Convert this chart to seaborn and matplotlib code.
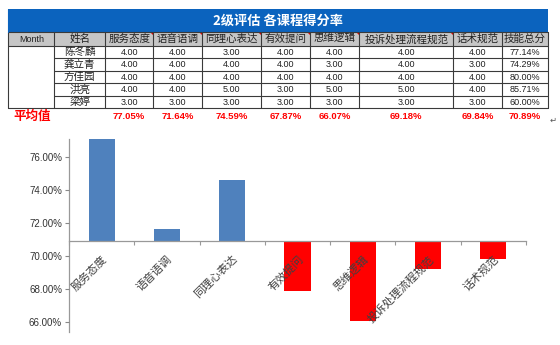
import matplotlib
matplotlib.use("Agg")
import matplotlib.pyplot as plt
from matplotlib.patches import Rectangle, Polygon
from matplotlib.ticker import FuncFormatter, FixedLocator
import seaborn as sns
import pandas as pd

# ---- data ----
title = "2级评估 各课程得分率"
courses = ["服务态度", "语音语调", "同理心表达", "有效提问", "思维逻辑", "投诉处理流程规范", "话术规范"]
names = ["陈冬麟", "龚立青", "方佳园", "洪亮", "梁婷"]
scores_chen = [4.00, 4.00, 3.00, 4.00, 4.00, 4.00, 4.00]
scores_gong = [4.00, 4.00, 4.00, 4.00, 3.00, 4.00, 3.00]
scores_fang = [4.00, 4.00, 4.00, 4.00, 4.00, 4.00, 4.00]
scores_hong = [4.00, 4.00, 5.00, 3.00, 5.00, 5.00, 4.00]
scores_liang = [3.00, 3.00, 3.00, 3.00, 3.00, 3.00, 3.00]
totals = ["77.14%", "74.29%", "80.00%", "85.71%", "60.00%"]
course_avg = [77.05, 71.64, 74.59, 67.87, 66.07, 69.18, 69.84]
overall_avg = 70.89
commented = [True, True, True, True, True, True, False]

sns.set_theme(style="white")
plt.rcParams["font.family"] = ["Noto Sans CJK SC", "DejaVu Sans"]

fig = plt.figure(figsize=(5.6, 3.45), dpi=100)
fig.patch.set_facecolor("white")

# ---- score table (drawn in pixel coordinates) ----
tb = fig.add_axes([0, 0, 1, 1])
tb.set_xlim(0, 560)
tb.set_ylim(345, 0)
tb.axis("off")

col_edges = [8.3, 54.3, 105, 153.3, 202.3, 261, 310, 359, 453.3, 501.7, 548.3]
y_title = (9.3, 31.7)
y_head = (31.7, 45.7)
row_h = 12.5
y_body0 = 45.7
y_avg = (108.2, 125)
line_c = "#3a3a3a"
num_font = ["Liberation Sans", "DejaVu Sans"]

tb.add_patch(Rectangle((col_edges[0], y_title[0]), col_edges[-1] - col_edges[0],
                       y_title[1] - y_title[0], facecolor="#0B63BE", edgecolor="none"))
tb.text((col_edges[0] + col_edges[-1]) / 2, sum(y_title) / 2 + 0.5, title, color="white",
        fontsize=9.5, fontweight="bold", ha="center", va="center")

tb.add_patch(Rectangle((col_edges[0], y_head[0]), col_edges[-1] - col_edges[0],
                       y_head[1] - y_head[0], facecolor="#C6C6C6", edgecolor="none"))
headers = ["Month", "姓名"] + courses + ["技能总分"]
for i, h in enumerate(headers):
    cx = (col_edges[i] + col_edges[i + 1]) / 2
    if h == "Month":
        tb.text(cx, sum(y_head) / 2 + 0.3, h, fontsize=6.5, ha="center", va="center",
                color="#222222", family=num_font)
    else:
        tb.text(cx, sum(y_head) / 2 + 0.3, h, fontsize=7.6, ha="center", va="center",
                color="#222222")

# comment markers in header corners
for i, flag in enumerate(commented):
    if flag:
        xr = col_edges[i + 3]
        tb.add_patch(Polygon([(xr - 3.2, y_head[0]), (xr, y_head[0]), (xr, y_head[0] + 3.2)],
                             closed=True, facecolor="#E00000", edgecolor="none"))

rows = [scores_chen, scores_gong, scores_fang, scores_hong, scores_liang]
for r, (nm, vals, tot) in enumerate(zip(names, rows, totals)):
    cy = y_body0 + row_h * (r + 0.5)
    tb.text((col_edges[1] + col_edges[2]) / 2, cy + 0.3, nm, fontsize=7.6, ha="center",
            va="center", color="#222222")
    for j, v in enumerate(vals):
        cx = (col_edges[j + 2] + col_edges[j + 3]) / 2
        tb.text(cx, cy + 0.3, f"{v:.2f}", fontsize=6.5, ha="center", va="center",
                color="#222222", family=num_font)
    tb.text((col_edges[-2] + col_edges[-1]) / 2, cy + 0.3, tot, fontsize=6.5, ha="center",
            va="center", color="#222222", family=num_font)

y_body1 = y_body0 + row_h * 5
# grid lines
tb.plot([col_edges[0], col_edges[-1]], [y_head[0], y_head[0]], color=line_c, lw=0.8)
tb.plot([col_edges[0], col_edges[-1]], [y_head[1], y_head[1]], color=line_c, lw=0.8)
for r in range(1, 6):
    yy = y_body0 + row_h * r
    tb.plot([col_edges[1], col_edges[-1]], [yy, yy], color=line_c, lw=0.8)
tb.plot([col_edges[0], col_edges[1]], [y_body1, y_body1], color=line_c, lw=0.8)
for x in col_edges:
    tb.plot([x, x], [y_head[0], y_body1], color=line_c, lw=0.8)
tb.plot([col_edges[0], col_edges[0]], [y_title[0], y_head[0]], color="#0B63BE", lw=0.8)

# average row
cy = sum(y_avg) / 2
tb.text(32, cy, "平均值", fontsize=9, fontweight="bold", ha="center", va="center",
        color="#FF0000")
for j, v in enumerate(course_avg):
    cx = (col_edges[j + 2] + col_edges[j + 3]) / 2
    tb.text(cx, cy, f"{v:.2f}%", fontsize=6.8, fontweight="bold", ha="center",
            va="center", color="#FF0000", family=num_font)
tb.text((col_edges[-2] + col_edges[-1]) / 2, cy, f"{overall_avg:.2f}%", fontsize=6.8,
        fontweight="bold", ha="center", va="center", color="#FF0000", family=num_font)
tb.text(553, 120.5, "\u21b5", fontsize=6, ha="center", va="center", color="#555555",
        family=["DejaVu Sans"])

# ---- bar chart of course averages around the overall average ----
ax = fig.add_axes([69 / 560, (345 - 332) / 345, (526 - 69) / 560, (332 - 139.3) / 345])
ax.set_facecolor("white")
df = pd.DataFrame({
    "course": courses,
    "avg": course_avg,
})
df["delta"] = df["avg"] - overall_avg
df["sign"] = ["above" if d >= 0 else "below" for d in df["delta"]]
sns.barplot(data=df, x="course", y="delta", hue="sign",
            palette={"above": "#4F81BD", "below": "#FF0000"},
            bottom=overall_avg, width=0.4, dodge=False, legend=False,
            saturation=1, linewidth=0, ax=ax)

ax.set_axisbelow(False)
ax.set_xlim(-0.5, len(courses) - 0.5)
ax.set_ylim(65.4, 77.05)
ax.set_yticks([66, 68, 70, 72, 74, 76])
ax.yaxis.set_major_formatter(FuncFormatter(lambda v, p: f"{v:.2f}%"))
for lab in ax.get_yticklabels():
    lab.set_family(num_font)
ax.tick_params(axis="y", left=True, direction="out", length=3, width=0.8,
               colors="#888888", labelcolor="#333333", labelsize=7, pad=2)

for side in ["top", "right"]:
    ax.spines[side].set_visible(False)
ax.spines["left"].set_color("#999999")
ax.spines["left"].set_linewidth(0.9)
ax.spines["bottom"].set_position(("data", overall_avg))
ax.spines["bottom"].set_color("#999999")
ax.spines["bottom"].set_linewidth(0.9)

ax.set_xticks(range(len(courses)))
ax.set_xticklabels(courses, rotation=45, ha="right", rotation_mode="anchor")
ax.xaxis.set_minor_locator(FixedLocator([i - 0.5 for i in range(len(courses) + 1)]))
ax.tick_params(axis="x", which="major", bottom=True, length=0, labelsize=8,
               labelcolor="#404040", pad=9)
ax.tick_params(axis="x", which="minor", bottom=True, direction="out", length=3,
               width=0.8, color="#999999")
ax.set_xlabel("")
ax.set_ylabel("")

fig.savefig("out.png", dpi=100, facecolor="white")
